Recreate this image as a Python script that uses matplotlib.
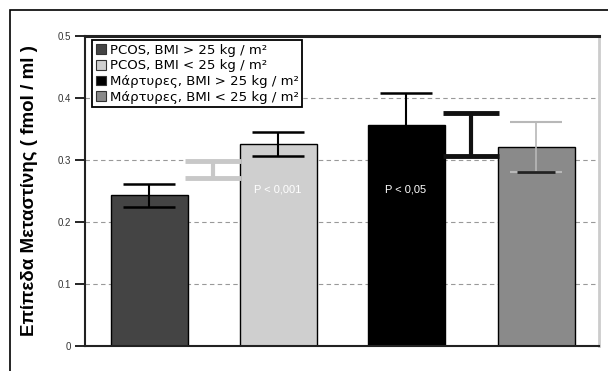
import matplotlib
matplotlib.use('Agg')
import matplotlib.pyplot as plt
from matplotlib.patches import Patch, Rectangle

plt.rcParams['font.family'] = ['Liberation Sans', 'DejaVu Sans']

# data
groups = ['PCOS, BMI > 25 kg / m²', 'PCOS, BMI < 25 kg / m²',
          'Μάρτυρες, BMI > 25 kg / m²', 'Μάρτυρες, BMI < 25 kg / m²']
values = [0.243, 0.326, 0.356, 0.321]
errors = [0.018, 0.019, 0.052, 0.040]
bar_colors = ['#444444', '#cfcfcf', '#000000', '#8a8a8a']
err_colors = ['black', 'black', 'black', '#b8b8b8']
# brackets between bars (centre, half range)
bracket_mid = [0.285, 0.341]
bracket_half = [0.014, 0.035]
bracket_colors = ['#c8c8c8', '#111111']
p_labels = ['P < 0,001', 'P < 0,05']

# layout (x in pixel-like units of the plot area)
xpos = [64, 193, 321, 451]
bracket_x = [128, 386]
width = 77

fig = plt.figure(figsize=(6.08, 3.71), dpi=100)
ax = fig.add_axes([85/608, 1-346/371, 514/608, 310/371])

ax.bar(xpos, values, width=width, color=bar_colors, edgecolor='black', linewidth=1.0, zorder=2)
for x, v, e, c in zip(xpos, values, errors, err_colors):
    ax.errorbar(x, v, yerr=e, fmt='none', ecolor=c, elinewidth=1.5 if c == 'black' else 1.2,
                capsize=19, capthick=1.8 if c == 'black' else 1.5, zorder=3)
# lower cap of the last bar is drawn dark
ax.hlines(values[3] - errors[3], xpos[3] - 19, xpos[3] + 19, color='#222222', linewidth=2, zorder=4)
for x, m, h, c in zip(bracket_x, bracket_mid, bracket_half, bracket_colors):
    ax.errorbar(x, m, yerr=h, fmt='none', ecolor=c, elinewidth=3, capsize=20, capthick=3.5, zorder=3)

ax.text(xpos[1], 0.252, p_labels[0], color='white', ha='center', va='center', fontsize=8, zorder=4)
ax.text(xpos[2], 0.252, p_labels[1], color='white', ha='center', va='center', fontsize=8, zorder=4)

ax.set_xlim(0, 514)
ax.set_ylim(0, 0.5)
ax.set_yticks([0, 0.1, 0.2, 0.3, 0.4, 0.5])
ax.set_yticklabels(['0', '0.1', '0.2', '0.3', '0.4', '0.5'])
ax.set_xticks([])
ax.tick_params(axis='y', length=7, width=1.2, labelsize=7, labelcolor='#333333', pad=3)
ax.grid(axis='y', linestyle=(0, (4, 3)), color='#999999', linewidth=0.8, zorder=0)

for s in ['left', 'top', 'bottom']:
    ax.spines[s].set_color('#222222')
ax.spines['left'].set_linewidth(1.5)
ax.spines['top'].set_linewidth(2.2)
ax.spines['bottom'].set_linewidth(1.5)
ax.spines['right'].set_color('#cccccc')
ax.spines['right'].set_linewidth(2)

ax.set_ylabel('Επίπεδα Μεταστίνης ( fmol / ml )', fontsize=13.5, fontweight='bold', labelpad=14)

handles = [Patch(facecolor=c, edgecolor='#333333', linewidth=0.8) for c in bar_colors]
leg = ax.legend(handles, groups, loc='upper left', bbox_to_anchor=(0.012, 0.99),
                prop={'family': 'DejaVu Sans', 'size': 9.5},
                handlelength=0.75, handleheight=0.75, handletextpad=0.35, labelspacing=0.2,
                borderpad=0.25, borderaxespad=0.1, fancybox=False, framealpha=1, edgecolor='black')
leg.get_frame().set_linewidth(1.3)

# outer border of the figure
fig.patches.append(Rectangle((10/608, -0.1), 1.2, 1 - 10/371 + 0.1, transform=fig.transFigure,
                             fill=False, edgecolor='black', linewidth=1.2))

fig.savefig('out.png', dpi=100)
